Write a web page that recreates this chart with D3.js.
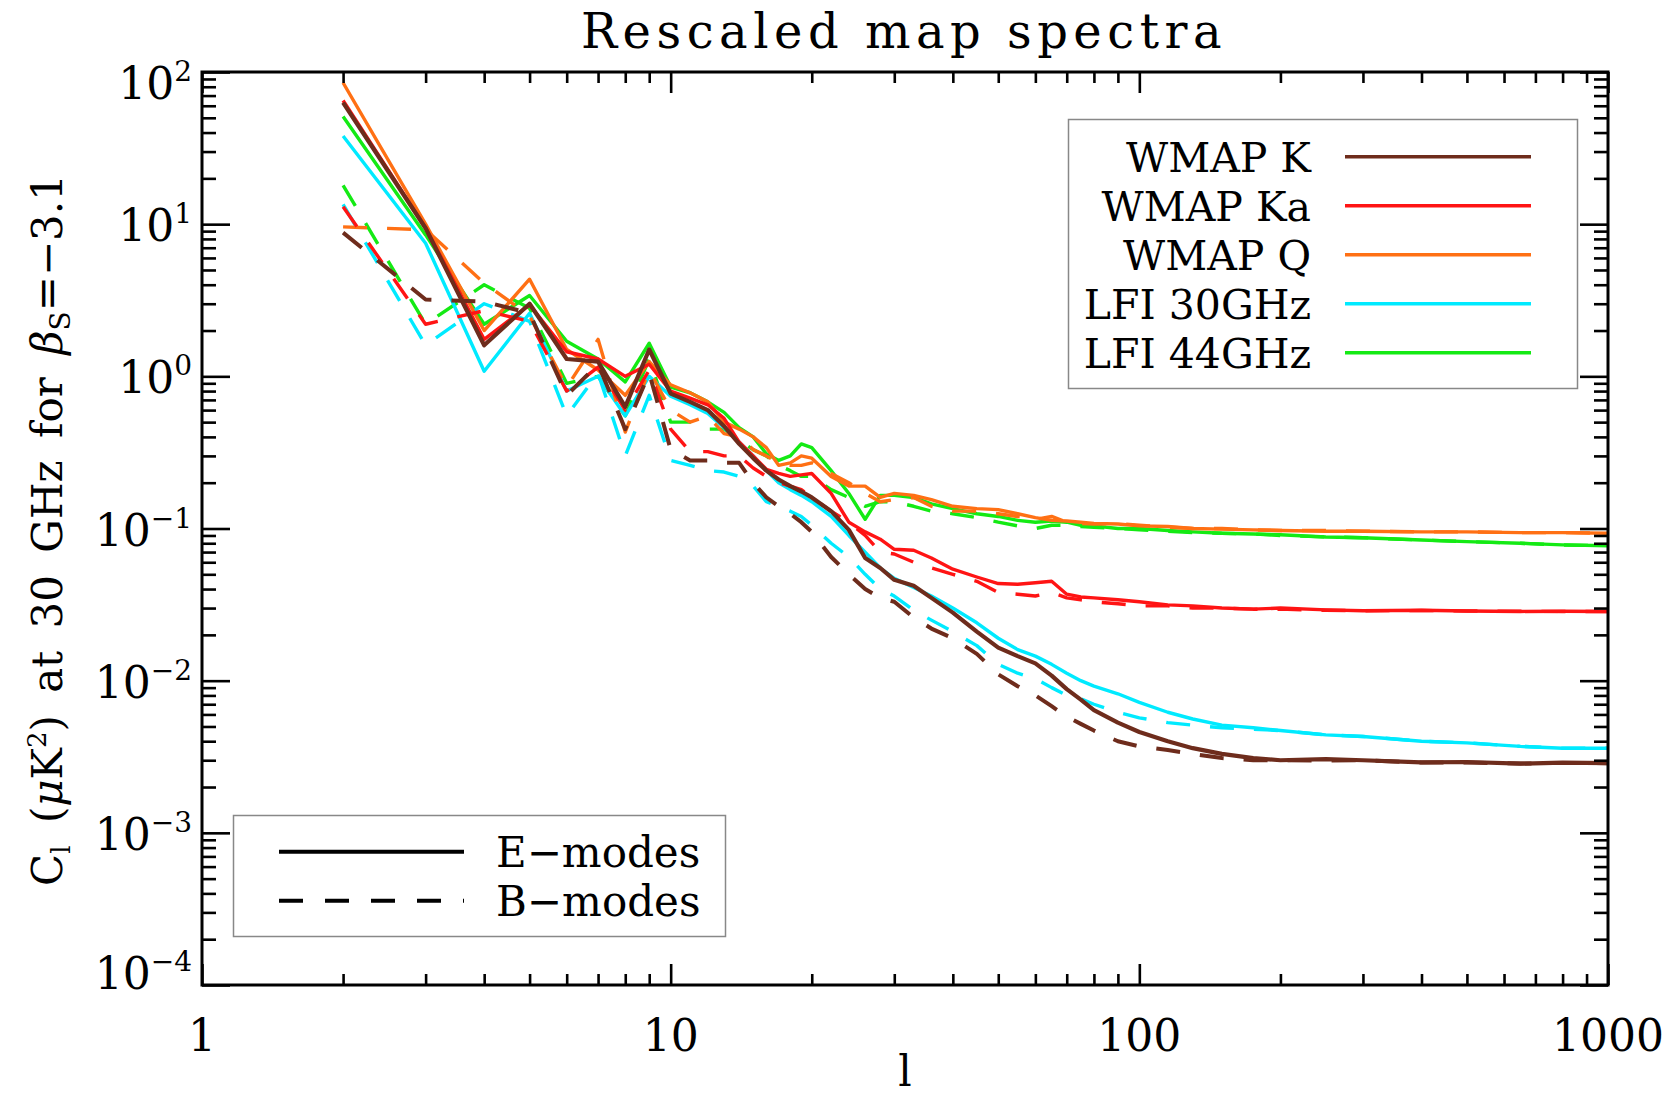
<!DOCTYPE html>
<html>
<head>
<meta charset="utf-8">
<script src="https://cdn.jsdelivr.net/npm/d3@7"></script>
<style>
  body { margin: 0; background: #fff; }
  svg text { font-family: "DejaVu Serif", serif; fill: #000; }
</style>
</head>
<body>
<svg id="chart" width="1664" height="1103"></svg>
<script>
var multipoles = [2, 3, 4, 5, 6, 7, 8, 9, 10, 11, 12, 13, 14, 15, 16, 17, 18, 19, 20,
  22, 24, 26, 28, 30, 33, 36, 40, 45, 50, 55, 60, 65, 70, 75, 80, 90, 100,
  115, 130, 150, 175, 200, 250, 300, 400, 500, 650, 800, 1000];

// E-modes (solid)
var wmapK_E = [63, 9.4, 1.6, 3.0, 1.3, 1.25, 0.63, 1.5, 0.77, 0.68, 0.60, 0.47, 0.36, 0.29, 0.24, 0.21, 0.19, 0.175, 0.16,
  0.13, 0.098, 0.064, 0.055, 0.046, 0.042, 0.035, 0.028, 0.021, 0.0165, 0.0145, 0.013, 0.0108, 0.0088, 0.0075, 0.0064,
  0.0053, 0.0046, 0.0040, 0.0036, 0.0033, 0.0031, 0.0030, 0.00305, 0.0030, 0.0029, 0.00292, 0.00285, 0.00289, 0.00287];
var wmapKa_E = [65, 9.5, 1.75, 2.95, 1.45, 1.3, 1.0, 1.2, 0.8, 0.72, 0.65, 0.53, 0.37, 0.30, 0.245, 0.23, 0.22, 0.225, 0.23,
  0.17, 0.11, 0.095, 0.085, 0.073, 0.072, 0.064, 0.054, 0.048, 0.0435, 0.043, 0.044, 0.045, 0.037, 0.0355, 0.035,
  0.034, 0.033, 0.0315, 0.031, 0.030, 0.0295, 0.030, 0.0292, 0.0288, 0.029, 0.0287, 0.0285, 0.0286, 0.0285];
var wmapQ_E = [85, 10, 2.0, 4.35, 1.5, 1.1, 0.75, 1.25, 0.88, 0.78, 0.68, 0.5, 0.45, 0.40, 0.34, 0.26, 0.27, 0.30, 0.29,
  0.22, 0.19, 0.19, 0.16, 0.17, 0.165, 0.155, 0.14, 0.135, 0.133, 0.125, 0.118, 0.113, 0.112, 0.11, 0.108,
  0.107, 0.104, 0.103, 0.1, 0.099, 0.098, 0.097, 0.096, 0.096, 0.095, 0.095, 0.094, 0.094, 0.093];
var lfi30_E = [38, 7.5, 1.08, 2.6, 0.8, 1.0, 0.55, 1.0, 0.74, 0.65, 0.57, 0.46, 0.37, 0.30, 0.24, 0.20, 0.18, 0.165, 0.15,
  0.12, 0.09, 0.07, 0.055, 0.047, 0.041, 0.036, 0.030, 0.024, 0.019, 0.016, 0.0145, 0.0128, 0.0112, 0.010, 0.0092,
  0.0082, 0.0072, 0.0062, 0.0056, 0.0051, 0.0049, 0.0047, 0.0044, 0.0043, 0.0040, 0.0039, 0.0037, 0.0036, 0.0036];
var lfi44_E = [51, 8.5, 2.2, 3.4, 1.7, 1.3, 0.92, 1.65, 0.85, 0.78, 0.68, 0.58, 0.46, 0.40, 0.31, 0.28, 0.30, 0.36, 0.34,
  0.24, 0.17, 0.115, 0.165, 0.165, 0.16, 0.145, 0.135, 0.125, 0.12, 0.113, 0.11, 0.112, 0.11, 0.105, 0.104,
  0.1, 0.1, 0.097, 0.095, 0.093, 0.092, 0.091, 0.088, 0.087, 0.084, 0.082, 0.080, 0.078, 0.077];

// B-modes (dashed)
var wmapK_B = [8.8, 3.2, 3.1, 2.6, 0.75, 1.2, 0.45, 1.05, 0.33, 0.28, 0.28, 0.27, 0.27, 0.20, 0.16, 0.14, 0.125, 0.11, 0.095,
  0.065, 0.05, 0.04, 0.035, 0.033, 0.026, 0.022, 0.019, 0.015, 0.011, 0.0092, 0.0080, 0.0068, 0.0058, 0.0052, 0.0047,
  0.0040, 0.0037, 0.0035, 0.0033, 0.0031, 0.0030, 0.0030, 0.00298, 0.0030, 0.0029, 0.0029, 0.00285, 0.00288, 0.00287];
var wmapKa_B = [13, 2.2, 2.7, 2.3, 0.8, 1.15, 0.6, 1.1, 0.45, 0.32, 0.32, 0.30, 0.30, 0.25, 0.22, 0.20, 0.19, 0.18, 0.16,
  0.13, 0.11, 0.09, 0.07, 0.068, 0.060, 0.055, 0.050, 0.045, 0.038, 0.037, 0.036, 0.038, 0.035, 0.034, 0.033,
  0.032, 0.031, 0.031, 0.030, 0.030, 0.0295, 0.0295, 0.029, 0.0288, 0.0289, 0.0287, 0.0286, 0.0285, 0.0285];
var wmapQ_B = [9.6, 9.2, 4.1, 2.5, 0.85, 1.75, 0.43, 1.1, 0.6, 0.5, 0.55, 0.42, 0.40, 0.33, 0.30, 0.27, 0.26, 0.26, 0.27,
  0.23, 0.20, 0.17, 0.15, 0.155, 0.16, 0.14, 0.13, 0.13, 0.125, 0.12, 0.115, 0.12, 0.11, 0.108, 0.107,
  0.108, 0.105, 0.102, 0.1, 0.1, 0.098, 0.097, 0.097, 0.096, 0.095, 0.095, 0.094, 0.094, 0.093];
var lfi30_B = [13.5, 1.6, 3.0, 2.3, 0.55, 1.05, 0.3, 0.75, 0.28, 0.26, 0.24, 0.235, 0.22, 0.19, 0.15, 0.14, 0.13, 0.12, 0.105,
  0.08, 0.065, 0.05, 0.04, 0.036, 0.029, 0.025, 0.021, 0.017, 0.0128, 0.0112, 0.0103, 0.009, 0.008, 0.0076, 0.0070,
  0.0062, 0.0057, 0.0053, 0.0051, 0.0049, 0.0048, 0.0047, 0.0044, 0.0043, 0.0040, 0.0039, 0.0037, 0.0036, 0.0036];
var lfi44_B = [18, 2.2, 4.0, 2.8, 0.9, 1.0, 0.55, 1.3, 0.5, 0.5, 0.45, 0.45, 0.38, 0.33, 0.30, 0.26, 0.24, 0.22, 0.22,
  0.18, 0.16, 0.14, 0.15, 0.15, 0.14, 0.13, 0.125, 0.118, 0.11, 0.104, 0.10, 0.105, 0.105, 0.103, 0.102,
  0.10, 0.098, 0.096, 0.094, 0.093, 0.092, 0.09, 0.088, 0.087, 0.084, 0.082, 0.080, 0.078, 0.077];

var bandNames = ["WMAP K", "WMAP Ka", "WMAP Q", "LFI 30GHz", "LFI 44GHz"];
var bandColors = ["#6e2c1c", "#ff1414", "#ff7014", "#00eaff", "#14ea14"];
var eModes = [wmapK_E, wmapKa_E, wmapQ_E, lfi30_E, lfi44_E];
var bModes = [wmapK_B, wmapKa_B, wmapQ_B, lfi30_B, lfi44_B];
var modeNames = ["E\u2212modes", "B\u2212modes"];

var xTicks = [1, 10, 100, 1000];
var xTickLabels = ["1", "10", "100", "1000"];
var yTicks = [1e2, 1e1, 1e0, 1e-1, 1e-2, 1e-3, 1e-4];
var yTickExponents = ["2", "1", "0", "\u22121", "\u22122", "\u22123", "\u22124"];

function drawSpectra() {
  var svg = d3.select("#chart"),
    margin = { top: 72, right: 56, bottom: 118, left: 202 },
    width = 1664 - margin.left - margin.right,
    height = 1103 - margin.top - margin.bottom,
    g = svg.append("g")
      .attr("transform", "translate(" + margin.left + "," + margin.top + ")");

  var x = d3.scaleLog().domain([1, 1000]).range([0, width]);
  var y = d3.scaleLog().domain([1e-4, 1e2]).range([height, 0]);

  var line = d3.line()
    .x(function (d) { return x(d[0]); })
    .y(function (d) { return y(d[1]); });

  // curves, K drawn last so it sits on top
  var plot = g.append("g");
  for (var i = bandNames.length - 1; i >= 0; i--) {
    var bData = multipoles.map(function (l, j) { return [l, bModes[i][j]]; });
    var eData = multipoles.map(function (l, j) { return [l, eModes[i][j]]; });
    plot.append("path")
      .datum(bData)
      .attr("fill", "none")
      .attr("stroke", bandColors[i])
      .attr("stroke-width", i === 0 ? 4 : 3.4)
      .attr("stroke-dasharray", "24,20")
      .attr("stroke-linejoin", "round")
      .attr("d", line);
    plot.append("path")
      .datum(eData)
      .attr("fill", "none")
      .attr("stroke", bandColors[i])
      .attr("stroke-width", i === 0 ? 4.2 : 3.4)
      .attr("stroke-linejoin", "round")
      .attr("d", line);
  }

  // axes: ticks on all four sides, pointing inward
  var xMinor = x.ticks().filter(function (d) { return xTicks.indexOf(d) < 0; });
  var yMinor = y.ticks().filter(function (d) { return yTicks.indexOf(d) < 0; });

  function styleAxis(sel) {
    sel.select(".domain").remove();
    sel.selectAll("line").attr("stroke", "#000").attr("stroke-width", 2.6);
  }

  g.append("g").attr("transform", "translate(0," + height + ")")
    .call(d3.axisBottom(x).tickValues(xMinor).tickSize(-11).tickFormat("")).call(styleAxis);
  g.append("g").attr("transform", "translate(0," + height + ")")
    .call(d3.axisBottom(x).tickValues(xTicks).tickSize(-21).tickFormat("")).call(styleAxis);
  g.append("g")
    .call(d3.axisTop(x).tickValues(xMinor).tickSize(-11).tickFormat("")).call(styleAxis);
  g.append("g")
    .call(d3.axisTop(x).tickValues(xTicks).tickSize(-21).tickFormat("")).call(styleAxis);
  g.append("g")
    .call(d3.axisLeft(y).tickValues(yMinor).tickSize(-14).tickFormat("")).call(styleAxis);
  g.append("g")
    .call(d3.axisLeft(y).tickValues(yTicks).tickSize(-28).tickFormat("")).call(styleAxis);
  g.append("g").attr("transform", "translate(" + width + ",0)")
    .call(d3.axisRight(y).tickValues(yMinor).tickSize(-14).tickFormat("")).call(styleAxis);
  g.append("g").attr("transform", "translate(" + width + ",0)")
    .call(d3.axisRight(y).tickValues(yTicks).tickSize(-28).tickFormat("")).call(styleAxis);

  g.append("rect")
    .attr("width", width)
    .attr("height", height)
    .attr("fill", "none")
    .attr("stroke", "#000")
    .attr("stroke-width", 3);

  // tick labels
  g.selectAll(".xlab")
    .data(xTicks)
    .enter()
    .append("text")
    .attr("class", "xlab")
    .attr("x", function (d) { return x(d); })
    .attr("y", height + 66)
    .attr("text-anchor", "middle")
    .style("font-size", "44px")
    .text(function (d, i) { return xTickLabels[i]; });

  var ylab = g.selectAll(".ylab")
    .data(yTicks)
    .enter()
    .append("text")
    .attr("class", "ylab")
    .attr("x", -10)
    .attr("y", function (d, i) {
      var off = 17;
      if (i === 0) off = 27;
      if (i === yTicks.length - 1) off = 4;
      return y(d) + off;
    })
    .attr("text-anchor", "end")
    .style("font-size", "44px");
  ylab.append("tspan").text("10");
  ylab.append("tspan")
    .attr("dy", -18)
    .style("font-size", "28px")
    .text(function (d, i) { return yTickExponents[i]; });

  // title and axis titles
  svg.append("text")
    .attr("x", 904)
    .attr("y", 48)
    .attr("text-anchor", "middle")
    .style("font-size", "48px")
    .style("letter-spacing", "5.5px")
    .text("Rescaled map spectra");

  svg.append("text")
    .attr("x", margin.left + width / 2)
    .attr("y", 1086)
    .attr("text-anchor", "middle")
    .style("font-size", "42px")
    .text("l");

  var yt = svg.append("text")
    .attr("transform", "translate(62,530) rotate(-90)")
    .attr("text-anchor", "middle")
    .style("font-size", "42px")
    .style("word-spacing", "9px");
  yt.append("tspan").text("C");
  yt.append("tspan").attr("dy", 8).style("font-size", "26px").text("l");
  yt.append("tspan").attr("dy", -8).text(" (");
  yt.append("tspan").style("font-style", "italic").text("\u03bc");
  yt.append("tspan").text("K");
  yt.append("tspan").attr("dy", -16).style("font-size", "26px").text("2");
  yt.append("tspan").attr("dy", 16).text(") at 30 GHz for ");
  yt.append("tspan").style("font-style", "italic").text("\u03b2");
  yt.append("tspan").attr("dy", 8).style("font-size", "28px").text("S");
  yt.append("tspan").attr("dy", -8).text("=\u22123.1");

  // band legend (top right)
  var legend = svg.append("g");
  legend.append("rect")
    .attr("x", 1068.5).attr("y", 119.5)
    .attr("width", 509).attr("height", 269)
    .attr("fill", "#fff")
    .attr("stroke", "#888")
    .attr("stroke-width", 1.5);
  var items = legend.selectAll(".band")
    .data(bandNames)
    .enter()
    .append("g")
    .attr("transform", function (d, i) { return "translate(0," + (156.7 + i * 49) + ")"; });
  items.append("line")
    .attr("x1", 1345).attr("x2", 1531)
    .attr("stroke", function (d, i) { return bandColors[i]; })
    .attr("stroke-width", 3.5);
  items.append("text")
    .attr("x", 1311)
    .attr("y", 15)
    .attr("text-anchor", "end")
    .style("font-size", "41px")
    .text(function (d) { return d; });

  // mode legend (bottom left)
  var legend2 = svg.append("g");
  legend2.append("rect")
    .attr("x", 233.5).attr("y", 815.5)
    .attr("width", 492).attr("height", 121)
    .attr("fill", "#fff")
    .attr("stroke", "#888")
    .attr("stroke-width", 1.5);
  var modes = legend2.selectAll(".mode")
    .data(modeNames)
    .enter()
    .append("g")
    .attr("transform", function (d, i) { return "translate(0," + (851.7 + i * 49) + ")"; });
  modes.append("line")
    .attr("x1", 279).attr("x2", 464)
    .attr("stroke", "#000")
    .attr("stroke-width", 4)
    .attr("stroke-dasharray", function (d, i) { return i === 0 ? null : "24,22"; });
  modes.append("text")
    .attr("x", 496)
    .attr("y", 15)
    .style("font-size", "42px")
    .text(function (d) { return d; });
}

drawSpectra();
</script>
</body>
</html>
